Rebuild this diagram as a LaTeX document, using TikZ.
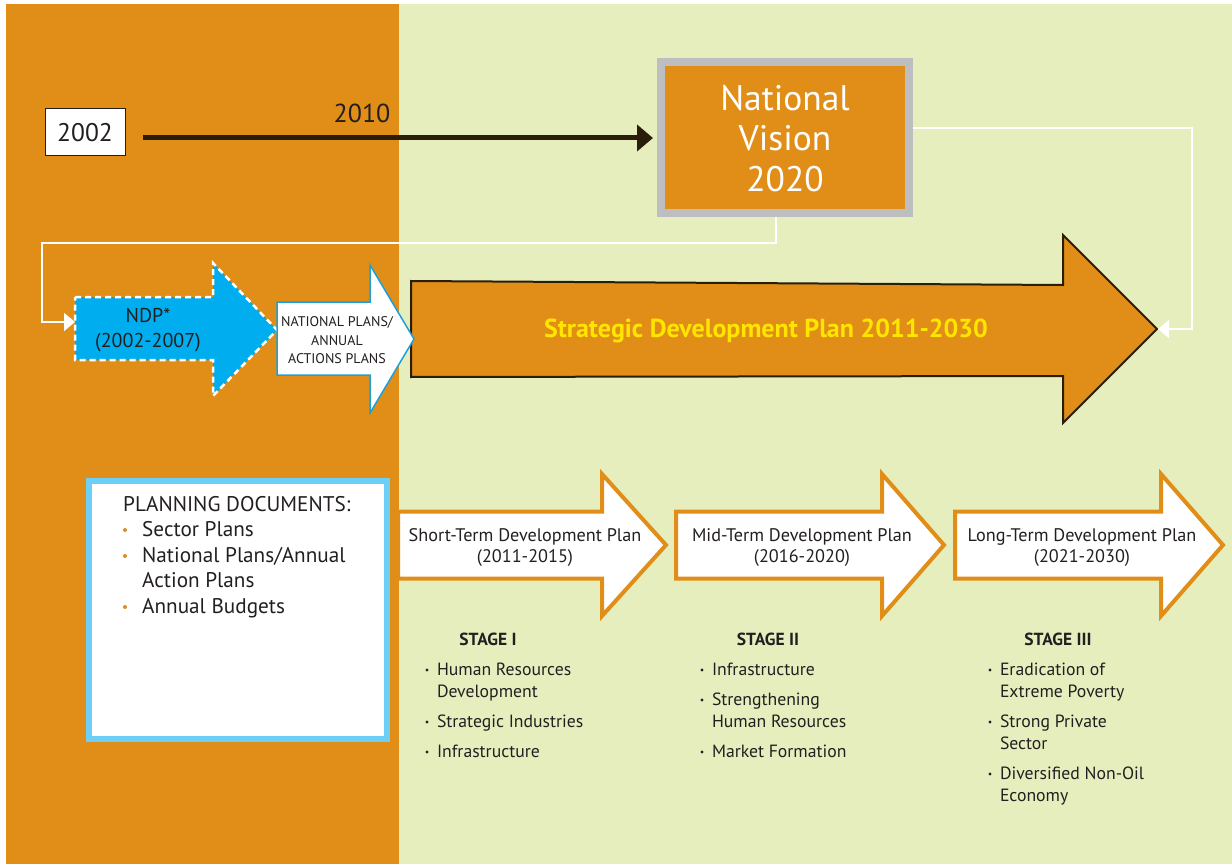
\documentclass[tikz,border=0pt]{standalone}
\usepackage{fontspec}
\setmainfont{PT Sans}
\usetikzlibrary{arrows.meta}
\definecolor{orng}{HTML}{E08E17}
\definecolor{grn}{HTML}{E6EEBE}
\definecolor{txt}{HTML}{231F20}
\definecolor{darkline}{HTML}{2A1E0B}
\definecolor{greyb}{HTML}{BCBEC0}
\definecolor{ndpblue}{HTML}{00AEEF}
\definecolor{ltblue}{HTML}{6DCFF6}
\definecolor{npblue}{HTML}{1BA0DC}
\definecolor{yel}{HTML}{FFE500}
\newcommand\myfs[1]{\fontsize{#1}{#1}\selectfont}
\begin{document}
\begin{tikzpicture}[x=1pt,y=-1pt,
  lbl/.style={inner sep=0,outer sep=0,anchor=base,text=txt},
  lstitem/.style={inner sep=0,outer sep=0,anchor=base west,text=txt,font=\myfs{17.7}},
  conn/.style={draw=white,line width=2,-{Triangle[length=11pt,width=18pt]}},
  stagearrow/.style={draw=orng,line width=4,fill=white,line join=miter},
  sdot/.style={fill=txt},
  odot/.style={fill=orng}]
\useasboundingbox (0,0) rectangle (1232,864);
\fill[white] (0,0) rectangle (1232,864);
\fill[orng] (6,4) rectangle (399,864);
\fill[grn] (399,4) rectangle (1232,864);

% 2002 box
\node[draw=txt,line width=1,fill=white,minimum width=80,minimum height=47,inner sep=0,text=txt,font=\myfs{25.5}] (y2002) at (85,132.5) {2002};
\node[lbl,font=\myfs{26}] (y2010) at (362,123) {2010};

% National Vision
\node[rectangle,fill=orng,draw=greyb,line width=8,minimum width=248,minimum height=151,inner sep=0] (nv) at (785,137.5) {};
\node[lbl,text=white,font=\myfs{35.5}] (nv1) at (785,111) {National};
\node[lbl,text=white,font=\myfs{35.5}] (nv2) at (785,151) {Vision};
\node[lbl,text=white,font=\myfs{35.5}] (nv3) at (785,191) {2020};

\draw[line width=5,darkline,shorten >=4pt,-{Triangle[length=16pt,width=26pt]}]
  ([xshift=17pt,yshift=-5.5pt]y2002.east) -- ([yshift=-0.5pt]nv.west);

% Strategic Development Plan arrow
\draw[darkline,fill=orng,line width=2,line join=miter]
  (411,281) -- (1063,285) -- (1063,235) -- (1157,329) -- (1063,423) -- (1063,376) -- (411,377) -- cycle;
\coordinate (sdptip) at (1158,329);
\node[lbl,text=yel,font=\bfseries\myfs{26}] (sdp) at (766,337) {Strategic Development Plan 2011-2030};

% NDP arrow
\draw[draw=white,fill=ndpblue,line width=2.5,dash pattern=on 6pt off 4pt,line join=miter]
  (75,297) -- (213,297) -- (213,263) -- (277,330) -- (213,396) -- (213,360) -- (75,360) -- cycle;
\coordinate (ndpL) at (75,322);
\node[lbl,font=\myfs{20}] (ndp1) at (148,322) {NDP*};
\node[lbl,font=\myfs{20}] (ndp2) at (148,347) {(2002-2007)};

% National plans arrow
\draw[draw=npblue,fill=white,line width=1.5,line join=miter]
  (277,302) -- (370,302) -- (370,265) -- (414,339) -- (370,413) -- (370,375) -- (277,375) -- cycle;
\node[lbl,font=\myfs{14}] (np1) at (337,326) {NATIONAL PLANS/};
\node[lbl,font=\myfs{14}] (np2) at (337,345) {ANNUAL};
\node[lbl,font=\myfs{14}] (np3) at (337,363) {ACTIONS PLANS};

% connectors
\draw[conn] ([yshift=9.5pt]nv.east) -- ++(279,0) |- (sdptip);
\coordinate (bend) at (42,243);
\draw[conn] ([xshift=-9pt]nv.south) |- (bend) |- (ndpL);

% Planning documents box
\draw[draw=ltblue,fill=white,line width=5.5] (89,481) rectangle (387,739);
\node[inner sep=0,anchor=base west,text=txt,font=\myfs{21.2}] (pd) at (123,511) {PLANNING DOCUMENTS:};
\node[inner sep=0,anchor=base west,text=txt,font=\myfs{21.2}] (pd1) at (142,536) {Sector Plans};
\node[inner sep=0,anchor=base west,text=txt,font=\myfs{21.2}] (pd2) at (142,562) {National Plans/Annual};
\node[inner sep=0,anchor=base west,text=txt,font=\myfs{21.2}] (pd3) at (142,587) {Action Plans};
\node[inner sep=0,anchor=base west,text=txt,font=\myfs{21.2}] (pd4) at (142,613) {Annual Budgets};
\fill[odot] (125,530) circle (2);
\fill[odot] (125,556) circle (2);
\fill[odot] (125,607) circle (2);

% Stage arrows
\draw[stagearrow] (398,511.5) -- (602,511.5) -- (602,474) -- (666,545) -- (602,616) -- (602,578.5) -- (398,578.5) -- cycle;
\draw[stagearrow] (676,511.5) -- (882,511.5) -- (882,474) -- (944,545) -- (882,616) -- (882,578.5) -- (676,578.5) -- cycle;
\draw[stagearrow] (955,511.5) -- (1161,511.5) -- (1161,474) -- (1223,545) -- (1161,616) -- (1161,578.5) -- (955,578.5) -- cycle;
\node[lbl,font=\myfs{18.2}] (st1) at (525,541) {Short-Term Development Plan};
\node[lbl,font=\myfs{18.2}] (st2) at (525,562) {(2011-2015)};
\node[lbl,font=\myfs{18.2}] (mt1) at (802,541) {Mid-Term Development Plan};
\node[lbl,font=\myfs{18.2}] (mt2) at (802,562) {(2016-2020)};
\node[lbl,font=\myfs{18.2}] (lt1) at (1082,541) {Long-Term Development Plan};
\node[lbl,font=\myfs{18.2}] (lt2) at (1082,562) {(2021-2030)};

% Stage I
\node[lbl,font=\bfseries\myfs{17.5}] (s1) at (488,645) {STAGE I};
\node[lstitem] (s1a) at (437,675) {Human Resources};
\node[lstitem] (s1b) at (437,697) {Development};
\node[lstitem] (s1c) at (437,727) {Strategic Industries};
\node[lstitem] (s1d) at (437,757) {Infrastructure};
\fill[sdot] (427,670) circle (1.6);
\fill[sdot] (427,722) circle (1.6);
\fill[sdot] (427,752) circle (1.6);

% Stage II
\node[lbl,font=\bfseries\myfs{17.5}] (s2) at (768,645) {STAGE II};
\node[lstitem] (s2a) at (712,675) {Infrastructure};
\node[lstitem] (s2b) at (712,705) {Strengthening};
\node[lstitem] (s2c) at (712,727) {Human Resources};
\node[lstitem] (s2d) at (712,757) {Market Formation};
\fill[sdot] (702,670) circle (1.6);
\fill[sdot] (702,700) circle (1.6);
\fill[sdot] (702,752) circle (1.6);

% Stage III
\node[lbl,font=\bfseries\myfs{17.5}] (s3) at (1058,645) {STAGE III};
\node[lstitem] (s3a) at (1000,675) {Eradication of};
\node[lstitem] (s3b) at (1000,697) {Extreme Poverty};
\node[lstitem] (s3c) at (1000,727) {Strong Private};
\node[lstitem] (s3d) at (1000,749) {Sector};
\node[lstitem] (s3e) at (1000,779) {Diversified Non-Oil};
\node[lstitem] (s3f) at (1000,801) {Economy};
\fill[sdot] (990,670) circle (1.6);
\fill[sdot] (990,722) circle (1.6);
\fill[sdot] (990,774) circle (1.6);
\end{tikzpicture}
\end{document}
